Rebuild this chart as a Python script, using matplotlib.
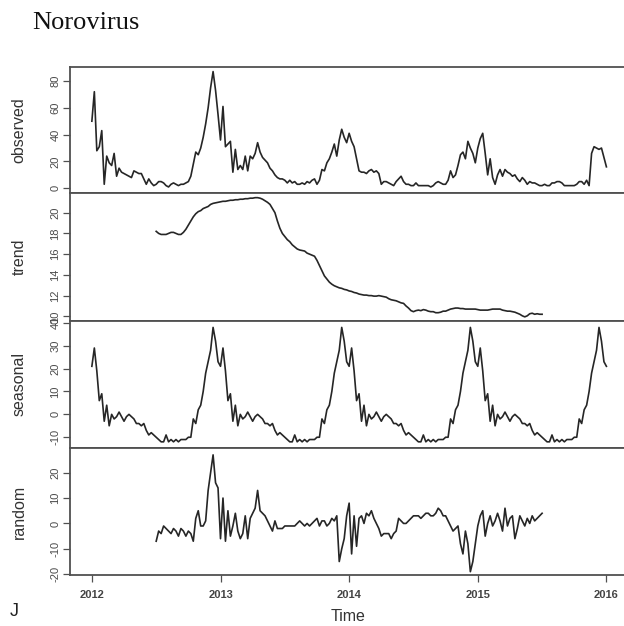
import numpy as np
import matplotlib
matplotlib.use("Agg")
import matplotlib.pyplot as plt

# ---- data (weekly, frequency 52, start 2012.0) ----
observed = [50, 72, 28, 31, 43, 3, 24, 19, 17, 26,
            9, 15, 12, 11, 10, 9, 8, 13, 12, 11,
            11, 7, 3, 7, 4, 2, 3, 5, 5, 4,
            2, 1, 3, 4, 3, 2, 3, 3, 4, 5,
            9, 18, 27, 25, 30, 38, 48, 60, 75, 87,
            73, 55, 36, 61, 31, 33, 35, 12, 29, 14,
            17, 14, 24, 13, 24, 22, 26, 34, 27, 23,
            21, 19, 15, 13, 10, 8, 7, 7, 6, 4,
            6, 4, 5, 3, 3, 4, 3, 5, 4, 6,
            7, 3, 6, 14, 13, 19, 22, 27, 33, 24,
            36, 44, 38, 34, 41, 35, 31, 22, 13, 12,
            12, 11, 13, 14, 12, 13, 11, 3, 5, 5,
            4, 3, 2, 5, 7, 9, 5, 3, 3, 2,
            2, 4, 2, 2, 2, 2, 2, 1, 2, 4,
            5, 4, 3, 3, 6, 13, 8, 10, 17, 25,
            27, 22, 35, 30, 26, 19, 30, 37, 41, 26,
            10, 22, 8, 3, 10, 14, 9, 14, 12, 11,
            9, 10, 7, 5, 8, 6, 3, 5, 4, 4,
            3, 2, 2, 3, 2, 2, 4, 4, 5, 5,
            4, 2, 2, 2, 2, 2, 3, 5, 5, 3,
            6, 2, 26, 31, 30, 29, 30, 23, 16]

seasonal_pattern = [21, 29, 19, 6, 9, -3, 4, -5, 0, -2,
                    -1, 1, -1, -3, -1, 0, -1, -2, -4, -4,
                    -5, -4, -7, -9, -8, -9, -10, -11, -12, -12,
                    -9, -12, -11, -12, -11, -12, -11, -11, -11, -10,
                    -10, -2, -4, 2, 4, 10, 18, 23, 28, 38,
                    32, 23]

trend = [18.2, 18.0, 17.9, 17.9, 17.9, 18.0, 18.1, 18.1, 18.0, 17.9,
         17.9, 18.1, 18.4, 18.8, 19.2, 19.6, 19.9, 20.1, 20.2, 20.4,
         20.5, 20.6, 20.8, 20.9, 20.95, 21.0, 21.05, 21.1, 21.1, 21.15,
         21.2, 21.2, 21.25, 21.25, 21.3, 21.3, 21.35, 21.35, 21.4, 21.4,
         21.45, 21.45, 21.4, 21.3, 21.15, 21.0, 20.8, 20.4, 20.0, 19.2,
         18.5, 18.0, 17.7, 17.4, 17.2, 16.9, 16.7, 16.5, 16.4, 16.35,
         16.3, 16.1, 16.0, 15.9, 15.8, 15.4, 14.9, 14.4, 13.9, 13.6,
         13.3, 13.1, 12.95, 12.85, 12.75, 12.7, 12.6, 12.55, 12.45, 12.4,
         12.3, 12.25, 12.15, 12.1, 12.05, 12.05, 12.0, 12.0, 11.95, 11.95,
         12.0, 11.95, 11.9, 11.85, 11.7, 11.6, 11.55, 11.5, 11.4, 11.3,
         11.25, 11.0, 10.8, 10.55, 10.45, 10.55, 10.6, 10.55, 10.65, 10.6,
         10.5, 10.45, 10.45, 10.35, 10.35, 10.4, 10.5, 10.5, 10.6, 10.7,
         10.75, 10.8, 10.8, 10.75, 10.75, 10.7, 10.7, 10.7, 10.7, 10.7,
         10.65, 10.6, 10.6, 10.6, 10.6, 10.65, 10.7, 10.7, 10.7, 10.7,
         10.6, 10.55, 10.5, 10.5, 10.45, 10.4, 10.3, 10.2, 10.05, 9.95,
         10.05, 10.25, 10.3, 10.2, 10.25, 10.2, 10.2]

random = [-7, -3, -4, -1, -2, -3, -4, -2, -3, -5,
          -2, -3, -5, -3, -4, -7, 2, 5, -1, -1,
          1, 13, 20, 27, 16, 14, -6, 10, -7, 5,
          -5, -1, 4, -3, -6, -4, 3, -6, 2, 4,
          6, 13, 5, 4, 3, 1, -1, -3, 1, -2,
          -2, -2, -1, -1, -1, -1, -1, 0, 1, 0,
          -1, 0, -1, 0, 1, 2, -1, 1, 1, -1,
          0, 2, 1, 3, -15, -10, -6, 3, 8, -12,
          3, -9, 2, 3, 0, 4, 3, 5, 2, 0,
          -2, -5, -4, -4, -4, -6, -4, -3, 2, 1,
          0, 0, 1, 2, 3, 3, 3, 2, 3, 4,
          4, 3, 3, 4, 6, 5, 3, 3, 1, -1,
          -3, -2, -1, -8, -12, -3, -8, -19, -15, -8,
          -1, 3, 5, -5, 0, 3, -1, 1, 4, 1,
          -3, 6, -1, 2, 3, -6, -2, 3, 1, -1,
          2, 0, 3, 1, 2, 3, 4]

panel_names = ["observed", "trend", "seasonal", "random"]
year_ticks = [2012, 2013, 2014, 2015, 2016]
freq = 52
start = 2012.0
trend_start_week = 26

# ---- build time axes ----
t_obs = start + np.arange(len(observed)) / freq
seasonal = np.tile(seasonal_pattern, len(observed) // freq + 1)[:len(observed)]
t_tr = start + (trend_start_week + np.arange(len(trend))) / freq
t_rn = start + (trend_start_week + np.arange(len(random))) / freq

series = [(t_obs, observed), (t_tr, trend), (t_obs, seasonal), (t_rn, random)]
ylims = [(-3.5, 90.4), (9.55, 21.9), (-14.7, 40.8), (-20.3, 29.7)]
yticks = [[0, 20, 40, 60, 80], [10, 12, 14, 16, 18, 20],
          [-10, 0, 10, 20, 30, 40], [-20, -10, 0, 10, 20]]

W, H = 624, 626
fig = plt.figure(figsize=(W / 100, H / 100), dpi=100)
fig.patch.set_facecolor("white")

left_px, right_px = 70, 627
bounds = [(67, 193), (193, 321), (321, 448), (448, 575)]
line_col = "#262626"
spine_col = "#505050"
tick_col = "#4a4a4a"

for i, ((top, bot), (tx, ty)) in enumerate(zip(bounds, series)):
    ax = fig.add_axes([left_px / W, 1 - bot / H, (right_px - left_px) / W, (bot - top) / H])
    ax.plot(tx, ty, color=line_col, lw=1.2)
    ax.set_xlim(2011.83, 2016.16)
    ax.set_ylim(*ylims[i])
    ax.set_yticks(yticks[i])
    ax.set_yticklabels([str(v) for v in yticks[i]], rotation=90, va="center",
                       fontsize=8, color=tick_col, family="Liberation Sans")
    ax.tick_params(axis="y", direction="out", length=5, width=0.9, color=spine_col, pad=2)
    for s in ax.spines.values():
        s.set_color(spine_col)
        s.set_linewidth(1.3)
    ax.set_ylabel(panel_names[i], fontsize=11.5, family="Liberation Sans", color="#333333")
    ax.yaxis.set_label_coords(-0.078, 0.5)
    if i < 3:
        ax.set_xticks([])
    else:
        ax.set_xticks(year_ticks)
        ax.set_xticklabels([str(y) for y in year_ticks], fontsize=8, fontweight="bold",
                           color="#444444", family="Liberation Sans")
        ax.tick_params(axis="x", direction="out", length=5, width=0.9, color=spine_col, pad=6)
        ax.set_xlabel("Time", fontsize=11.5, family="Liberation Sans", color="#333333", labelpad=6)

fig.text(32 / W, 1 - 29 / H, "Norovirus", fontsize=19, family="Liberation Serif",
         color="#111111", ha="left", va="baseline")
fig.text(10 / W, 1 - 616 / H, "J", fontsize=13, family="Liberation Sans",
         color="#222222", ha="left", va="baseline")

fig.savefig("out.png", dpi=100, facecolor="white")
